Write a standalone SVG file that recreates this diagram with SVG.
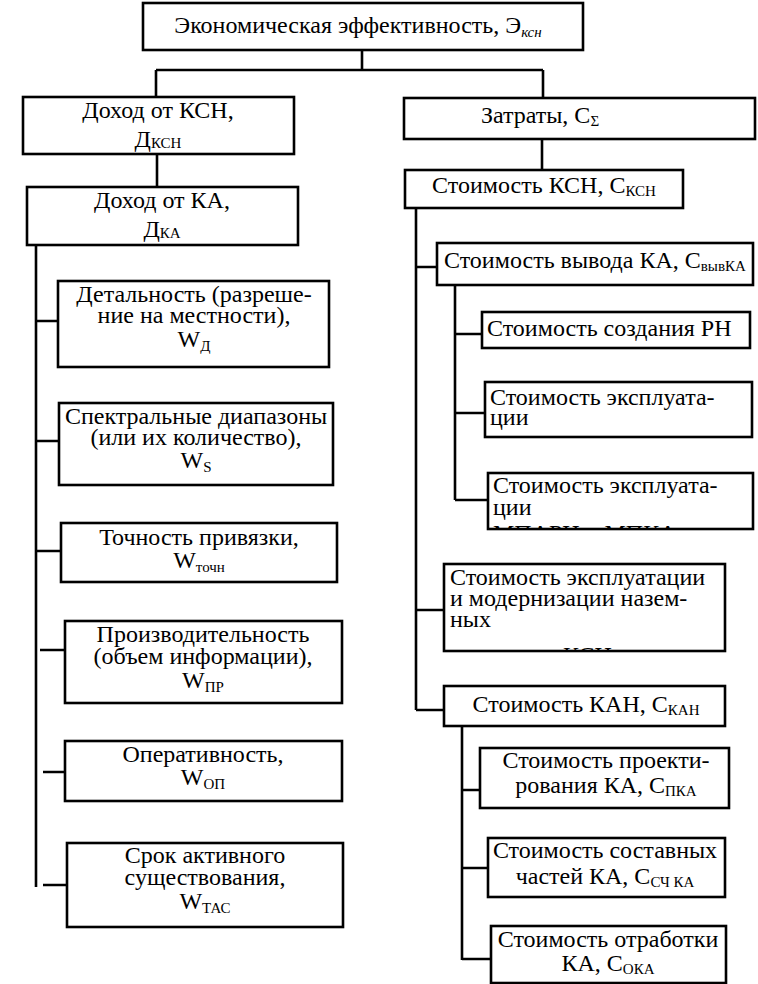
<svg xmlns="http://www.w3.org/2000/svg" width="758" height="984" viewBox="0 0 758 984">
  <defs>
    <style>
      .box { fill: #ffffff; stroke: #000000; stroke-width: 2.6; }
      .wire { fill: none; stroke: #000000; stroke-width: 2.6; }
      text { font-family: "Liberation Serif", "Times New Roman", serif; font-size: 24px; fill: #000000; }
      .c { text-anchor: middle; }
      .sub { font-size: 15px; }
    </style>
    <clipPath id="clipOps2"><rect x="489" y="473" width="263" height="55"/></clipPath>
    <clipPath id="clipGround"><rect x="445" y="564" width="279" height="86"/></clipPath>
  </defs>

  <!-- connectors -->
  <g id="connectors">
    <!-- root split -->
    <path class="wire" d="M362 50 V70 M156 70 H543 M156 70 V97 M543 70 V98"/>
    <!-- income branch -->
    <path class="wire" d="M157 154 V187"/>
    <path class="wire" d="M36 245 V887"/>
    <path class="wire" d="M36 321 H58 M36 441 H59 M36 551 H61 M40 650 H65 M43 772 H65 M43 885 H67"/>
    <!-- cost branch -->
    <path class="wire" d="M542 139 V170"/>
    <path class="wire" d="M416 208 V710"/>
    <path class="wire" d="M416 267 H437 M416 610 H444 M416 710 H444"/>
    <path class="wire" d="M455 285 V500 M455 334 H482 M455 413 H485 M455 500 H488"/>
    <path class="wire" d="M462 726 V960 M462 790 H480 M462 868 H488 M462 959 H491"/>
  </g>

  <g id="n-root">
    <rect class="box" x="143" y="3" width="440" height="47"/>
    <text class="c" x="358" y="33">Экономическая эффективность, Э<tspan class="sub" font-style="italic" dy="4">ксн</tspan></text>
  </g>

  <g id="n-income-ksn">
    <rect class="box" x="23" y="97" width="271" height="57"/>
    <text class="c" x="158" y="118">Доход от КСН,</text>
    <text class="c" x="158" y="147">Д<tspan class="sub" dy="1">КСН</tspan></text>
  </g>

  <g id="n-income-ka">
    <rect class="box" x="27" y="187" width="271" height="58"/>
    <text class="c" x="162" y="208">Доход от КА,</text>
    <text class="c" x="162" y="237">Д<tspan class="sub" dy="1">КА</tspan></text>
  </g>

  <g id="n-detail">
    <rect class="box" x="58" y="281" width="271" height="86"/>
    <text class="c" x="194" y="302">Детальность (разреше-</text>
    <text class="c" x="194" y="323">ние на местности),</text>
    <text class="c" x="194" y="347">W<tspan class="sub" dy="4">Д</tspan></text>
  </g>

  <g id="n-spectral">
    <rect class="box" x="59" y="403" width="274" height="82"/>
    <text class="c" x="196" y="424">Спектральные диапазоны</text>
    <text class="c" x="196" y="445">(или их количество),</text>
    <text class="c" x="196" y="468">W<tspan class="sub" dy="4">S</tspan></text>
  </g>

  <g id="n-accuracy">
    <rect class="box" x="61" y="523" width="276" height="59"/>
    <text class="c" x="199" y="545">Точность привязки,</text>
    <text class="c" x="199" y="568">W<tspan class="sub" dy="4">точн</tspan></text>
  </g>

  <g id="n-throughput">
    <rect class="box" x="65" y="621" width="277" height="82"/>
    <text class="c" x="203" y="642">Производительность</text>
    <text class="c" x="203" y="664">(объем информации),</text>
    <text class="c" x="203" y="688">W<tspan class="sub" dy="4">ПР</tspan></text>
  </g>

  <g id="n-responsiveness">
    <rect class="box" x="65" y="741" width="277" height="60"/>
    <text class="c" x="203" y="762">Оперативность,</text>
    <text class="c" x="203" y="785">W<tspan class="sub" dy="4">ОП</tspan></text>
  </g>

  <g id="n-lifetime">
    <rect class="box" x="67" y="843" width="276" height="84"/>
    <text class="c" x="205" y="863">Срок активного</text>
    <text class="c" x="205" y="885">существования,</text>
    <text class="c" x="205" y="909">W<tspan class="sub" dy="4">ТАС</tspan></text>
  </g>

  <g id="n-costs">
    <rect class="box" x="404" y="98" width="351" height="41"/>
    <text class="c" x="540" y="123">Затраты, С<tspan class="sub" dy="3">Σ</tspan></text>
  </g>

  <g id="n-cost-ksn">
    <rect class="box" x="405" y="170" width="278" height="38"/>
    <text class="c" x="544" y="193">Стоимость КСН, С<tspan class="sub" dy="3">КСН</tspan></text>
  </g>

  <g id="n-launch">
    <rect class="box" x="437" y="243" width="316" height="42"/>
    <text x="444" y="268">Стоимость вывода КА, С<tspan class="sub" font-size="13" dy="3">вывКА</tspan></text>
  </g>

  <g id="n-rocket">
    <rect class="box" x="482" y="312" width="268" height="36"/>
    <text x="487" y="336">Стоимость создания РН</text>
  </g>

  <g id="n-ops1">
    <rect class="box" x="485" y="382" width="267" height="55"/>
    <text x="490" y="405">Стоимость эксплуата-</text>
    <text x="490" y="425">ции</text>
  </g>

  <g id="n-ops2">
    <rect class="box" x="488" y="473" width="265" height="56"/>
    <g clip-path="url(#clipOps2)">
      <text x="493" y="493">Стоимость эксплуата-</text>
      <text x="493" y="515">ции</text>
      <text x="493" y="541">МПАРН и МПКА</text>
    </g>
  </g>

  <g id="n-ground">
    <rect class="box" x="444" y="564" width="281" height="87"/>
    <g clip-path="url(#clipGround)">
      <text x="450" y="585">Стоимость эксплуатации</text>
      <text x="450" y="606">и модернизации назем-</text>
      <text x="450" y="627">ных</text>
      <text x="563" y="663">КСН</text>
    </g>
  </g>

  <g id="n-cost-kan">
    <rect class="box" x="444" y="686" width="281" height="40"/>
    <text class="c" x="586" y="712">Стоимость КАН, С<tspan class="sub" dy="3">КАН</tspan></text>
  </g>

  <g id="n-design">
    <rect class="box" x="480" y="748" width="249" height="60"/>
    <text class="c" x="606" y="768">Стоимость проекти-</text>
    <text class="c" x="606" y="793">рования КА, С<tspan class="sub" dy="3">ПКА</tspan></text>
  </g>

  <g id="n-parts">
    <rect class="box" x="488" y="838" width="237" height="59"/>
    <text class="c" x="605" y="858">Стоимость составных</text>
    <text class="c" x="605" y="884">частей КА, С<tspan class="sub" dy="3">СЧ КА</tspan></text>
  </g>

  <g id="n-testing">
    <rect class="box" x="491" y="926" width="235" height="57"/>
    <text class="c" x="608" y="947">Стоимость отработки</text>
    <text class="c" x="608" y="971">КА, С<tspan class="sub" dy="3">ОКА</tspan></text>
  </g>
</svg>
